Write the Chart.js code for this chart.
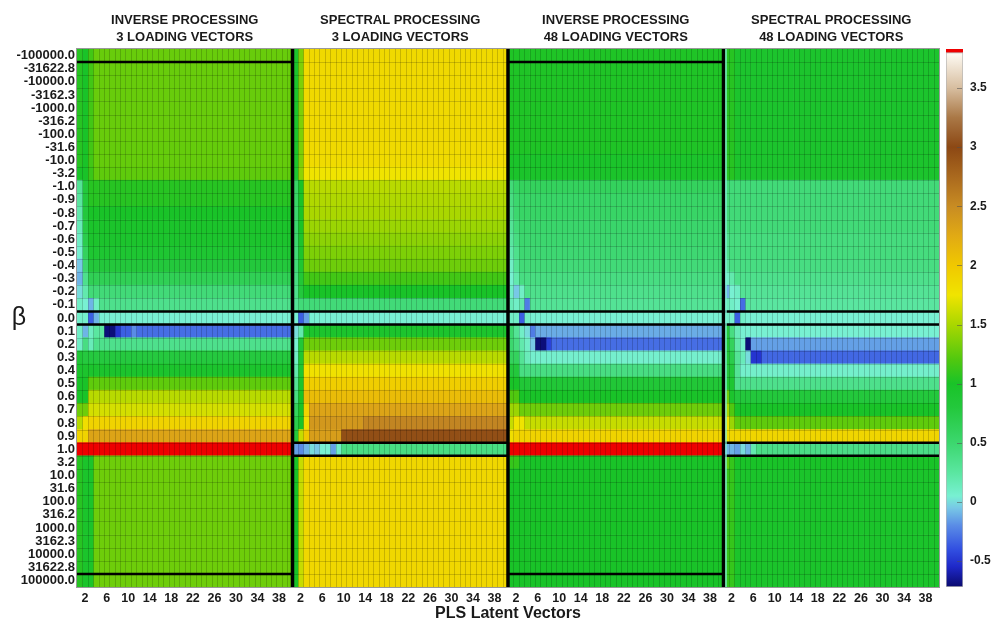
<!DOCTYPE html>
<html>
<head>
<meta charset="utf-8">
<script src="https://cdn.jsdelivr.net/npm/chart.js@4.4.0/dist/chart.umd.min.js"></script>
<style>
  html, body { margin: 0; padding: 0; background: #fff; overflow: hidden; }
  #wrap { position: relative; width: 991px; height: 623px; overflow: hidden; }
  #heat { position: absolute; left: 0; top: 0; }
  #bar { position: absolute; left: 946px; top: 0; }
</style>
</head>
<body>
<div id="wrap">
  <canvas id="heat" width="945" height="623"></canvas>
  <canvas id="bar" width="60" height="623"></canvas>
</div>
<script>
// rows (top to bottom) and columns
const betaLabels = ['-100000.0','-31622.8','-10000.0','-3162.3','-1000.0','-316.2','-100.0','-31.6','-10.0','-3.2',
  '-1.0','-0.9','-0.8','-0.7','-0.6','-0.5','-0.4','-0.3','-0.2','-0.1','0.0',
  '0.1','0.2','0.3','0.4','0.5','0.6','0.7','0.8','0.9','1.0',
  '3.2','10.0','31.6','100.0','316.2','1000.0','3162.3','10000.0','31622.8','100000.0'];
const nLatent = 40;
const xTickLabels = [2, 6, 10, 14, 18, 22, 26, 30, 34, 38];
const panelTitles = [
  ['INVERSE PROCESSING', '3 LOADING VECTORS'],
  ['SPECTRAL PROCESSING', '3 LOADING VECTORS'],
  ['INVERSE PROCESSING', '48 LOADING VECTORS'],
  ['SPECTRAL PROCESSING', '48 LOADING VECTORS']
];
const cbTicks = [-0.5, 0, 0.5, 1, 1.5, 2, 2.5, 3, 3.5];
const cbMin = -0.72, cbTop = 3.8, cbMax = 3.83;

// each row = runs of [value, how many latent vectors]; null = off scale (red)
const inverse3 = [
  [[1.05,1],[1.0,1],[1.15,1],[1.28,37]],
  [[1.05,1],[1.0,1],[1.15,1],[1.28,37]],
  [[1.05,1],[1.0,1],[1.15,1],[1.28,37]],
  [[1.05,1],[1.0,1],[1.15,1],[1.28,37]],
  [[1.05,1],[1.0,1],[1.15,1],[1.28,37]],
  [[1.05,1],[1.0,1],[1.15,1],[1.28,37]],
  [[1.05,1],[1.0,1],[1.15,1],[1.28,37]],
  [[1.05,1],[1.0,1],[1.15,1],[1.27,37]],
  [[1.05,1],[1.0,1],[1.15,1],[1.27,37]],
  [[1.0,2],[1.12,1],[1.25,37]],
  [[0.3,1],[0.8,1],[1.05,38]],
  [[0.25,1],[0.8,1],[1.05,38]],
  [[0.2,1],[0.8,1],[1.0,38]],
  [[0.15,1],[0.75,1],[0.97,38]],
  [[0.1,1],[0.7,1],[0.95,38]],
  [[0.05,1],[0.6,1],[0.9,38]],
  [[-0.05,1],[0.5,1],[0.8,38]],
  [[-0.1,1],[0.35,1],[0.65,38]],
  [[0.0,1],[0.2,1],[0.45,38]],
  [[0.1,1],[0.05,1],[-0.1,1],[0.1,1],[0.35,36]],
  [[0.08,2],[-0.35,1],[-0.1,1],[0.05,36]],
  [[0.1,1],[-0.1,1],[0.12,1],[0.25,2],[-0.7,2],[-0.5,1],[-0.35,2],[-0.2,1],[-0.3,29]],
  [[0.1,1],[0.4,1],[0.15,1],[0.35,37]],
  [[0.85,1],[0.78,39]],
  [[0.95,40]],
  [[1.0,2],[1.25,38]],
  [[1.0,2],[1.55,38]],
  [[1.3,2],[1.65,38]],
  [[1.55,1],[1.8,1],[1.9,38]],
  [[1.9,2],[2.3,38]],
  [[null,40]],
  [[1.05,1],[0.97,2],[1.3,37]],
  [[1.05,1],[0.97,2],[1.3,37]],
  [[1.05,1],[0.97,2],[1.3,37]],
  [[1.05,1],[0.97,2],[1.3,37]],
  [[1.05,1],[0.97,2],[1.3,37]],
  [[1.05,1],[0.97,2],[1.3,37]],
  [[1.05,1],[0.97,2],[1.3,37]],
  [[1.05,1],[0.97,2],[1.3,37]],
  [[1.05,1],[0.97,2],[1.3,37]],
  [[1.05,1],[0.97,2],[1.3,37]]
];

const spectral3 = [
  [[0.95,1],[1.35,1],[1.85,38]],
  [[0.95,1],[1.35,1],[1.85,38]],
  [[0.95,1],[1.35,1],[1.85,38]],
  [[0.95,1],[1.35,1],[1.85,38]],
  [[0.95,1],[1.35,1],[1.85,38]],
  [[0.95,1],[1.35,1],[1.85,38]],
  [[0.95,1],[1.35,1],[1.85,38]],
  [[0.95,1],[1.35,1],[1.84,38]],
  [[0.95,1],[1.35,1],[1.83,38]],
  [[0.9,1],[1.4,1],[1.75,38]],
  [[0.55,1],[1.0,1],[1.55,38]],
  [[0.55,1],[1.0,1],[1.52,38]],
  [[0.5,1],[1.0,1],[1.5,38]],
  [[0.5,1],[1.0,1],[1.45,38]],
  [[0.5,1],[0.95,1],[1.4,38]],
  [[0.45,1],[0.95,1],[1.35,38]],
  [[0.45,1],[0.9,1],[1.3,38]],
  [[0.4,1],[0.85,1],[1.15,38]],
  [[0.35,1],[0.8,1],[1.0,38]],
  [[0.3,1],[0.45,39]],
  [[0.05,1],[-0.35,1],[-0.15,1],[0.05,37]],
  [[0.0,1],[0.2,1],[0.95,38]],
  [[0.05,1],[0.85,1],[1.3,38]],
  [[0.1,1],[0.9,1],[1.55,38]],
  [[0.2,1],[0.9,1],[1.78,38]],
  [[0.3,1],[0.95,1],[1.95,38]],
  [[0.4,1],[1.0,1],[2.1,38]],
  [[0.6,1],[1.0,1],[1.9,1],[2.3,37]],
  [[0.7,1],[1.0,1],[1.8,1],[2.4,10],[2.55,27]],
  [[0.8,1],[1.6,1],[2.0,1],[2.35,6],[2.95,31]],
  [[-0.15,1],[-0.2,1],[-0.1,1],[0.0,1],[-0.05,1],[0.05,2],[-0.15,1],[0.1,1],[0.4,31]],
  [[1.0,1],[1.6,1],[1.87,38]],
  [[1.0,1],[1.6,1],[1.87,38]],
  [[1.0,1],[1.6,1],[1.87,38]],
  [[1.0,1],[1.6,1],[1.87,38]],
  [[1.0,1],[1.6,1],[1.87,38]],
  [[1.0,1],[1.6,1],[1.87,38]],
  [[1.0,1],[1.6,1],[1.87,38]],
  [[1.0,1],[1.6,1],[1.87,38]],
  [[1.0,1],[1.6,1],[1.87,38]],
  [[1.0,1],[1.6,1],[1.87,38]]
];

const inverse48 = [
  [[1.02,40]],
  [[1.02,40]],
  [[1.02,40]],
  [[1.02,40]],
  [[1.02,40]],
  [[1.02,40]],
  [[1.02,40]],
  [[1.02,40]],
  [[0.97,40]],
  [[0.97,40]],
  [[0.45,1],[0.55,1],[0.6,38]],
  [[0.4,1],[0.5,1],[0.55,38]],
  [[0.35,1],[0.5,1],[0.55,38]],
  [[0.3,1],[0.45,1],[0.52,38]],
  [[0.25,1],[0.4,1],[0.5,38]],
  [[0.2,1],[0.35,1],[0.48,38]],
  [[0.1,1],[0.3,1],[0.45,38]],
  [[0.05,1],[0.2,1],[0.4,38]],
  [[0.1,1],[-0.05,1],[0.1,1],[0.35,37]],
  [[0.15,1],[0.1,1],[0.2,1],[-0.25,1],[0.3,36]],
  [[0.1,2],[-0.35,1],[0.1,1],[0.05,36]],
  [[0.5,1],[0.3,1],[0.1,1],[0.0,1],[-0.25,1],[-0.12,35]],
  [[0.5,1],[0.4,1],[0.2,1],[0.1,1],[-0.05,1],[-0.7,2],[-0.45,1],[-0.3,32]],
  [[0.6,2],[0.3,1],[0.15,1],[0.07,36]],
  [[0.8,2],[0.4,38]],
  [[1.0,2],[0.85,38]],
  [[1.2,2],[1.0,38]],
  [[1.45,2],[1.3,38]],
  [[1.6,1],[1.75,2],[1.6,37]],
  [[1.8,1],[1.9,39]],
  [[null,40]],
  [[1.1,2],[1.0,38]],
  [[1.0,40]],
  [[1.0,40]],
  [[1.0,40]],
  [[1.0,40]],
  [[1.0,40]],
  [[1.0,40]],
  [[1.0,40]],
  [[1.0,40]],
  [[1.0,40]]
];

const spectral48 = [
  [[1.05,2],[0.95,38]],
  [[1.05,2],[0.95,38]],
  [[1.05,2],[0.95,38]],
  [[1.05,2],[0.95,38]],
  [[1.05,2],[0.95,38]],
  [[1.05,2],[0.95,38]],
  [[1.05,2],[0.95,38]],
  [[1.05,2],[0.95,38]],
  [[1.05,2],[0.95,38]],
  [[1.05,2],[0.95,38]],
  [[0.45,40]],
  [[0.45,40]],
  [[0.45,40]],
  [[0.45,40]],
  [[0.35,1],[0.42,39]],
  [[0.35,1],[0.42,39]],
  [[0.25,1],[0.4,39]],
  [[0.1,1],[0.2,1],[0.35,38]],
  [[-0.1,1],[0.05,1],[0.1,1],[0.3,37]],
  [[0.15,1],[0.1,1],[0.05,1],[-0.3,1],[0.25,36]],
  [[0.1,1],[0.05,1],[-0.35,1],[0.1,1],[0.05,36]],
  [[0.8,1],[0.4,1],[0.15,1],[0.05,37]],
  [[0.9,1],[0.6,1],[0.2,1],[0.05,1],[-0.7,1],[-0.15,35]],
  [[0.85,1],[0.7,1],[0.3,1],[0.15,1],[0.0,1],[-0.5,2],[-0.32,33]],
  [[0.8,2],[0.3,1],[0.08,37]],
  [[0.9,2],[0.35,38]],
  [[1.3,1],[0.95,1],[0.8,38]],
  [[1.5,1],[1.2,1],[1.0,38]],
  [[1.75,1],[1.45,1],[1.25,38]],
  [[1.8,1],[1.88,39]],
  [[-0.1,2],[-0.15,1],[0.0,1],[-0.1,1],[0.2,1],[0.38,34]],
  [[1.25,1],[1.1,1],[1.0,38]],
  [[1.1,2],[0.97,38]],
  [[1.1,2],[0.97,38]],
  [[1.1,2],[0.97,38]],
  [[1.1,2],[0.97,38]],
  [[1.1,2],[0.97,38]],
  [[1.1,2],[0.97,38]],
  [[1.1,2],[0.97,38]],
  [[1.1,2],[0.97,38]],
  [[1.1,2],[0.97,38]]
];

const panels = [inverse3, spectral3, inverse48, spectral48];

// colour scale of the bar on the right
const cmap = [
  [-0.72, [10, 10, 110]],
  [-0.55, [30, 40, 200]],
  [-0.4, [50, 80, 225]],
  [-0.2, [90, 140, 230]],
  [-0.05, [120, 200, 230]],
  [0.05, [120, 240, 210]],
  [0.25, [90, 230, 160]],
  [0.5, [60, 215, 110]],
  [0.8, [35, 200, 60]],
  [1.0, [25, 195, 40]],
  [1.2, [80, 200, 15]],
  [1.5, [170, 215, 0]],
  [1.75, [240, 228, 0]],
  [2.0, [240, 200, 0]],
  [2.25, [225, 170, 20]],
  [2.5, [200, 140, 35]],
  [2.75, [170, 105, 30]],
  [3.0, [140, 72, 20]],
  [3.25, [170, 120, 70]],
  [3.5, [215, 190, 160]],
  [3.8, [255, 252, 245]]
];
const offScale = 'rgb(238,0,0)';

function colorFor(v) {
  if (v === null || v > cbTop) return offScale;
  if (v <= cmap[0][0]) return 'rgb(' + cmap[0][1].join(',') + ')';
  for (let i = 1; i < cmap.length; i++) {
    if (v <= cmap[i][0]) {
      const [v0, c0] = cmap[i - 1], [v1, c1] = cmap[i];
      const t = (v - v0) / (v1 - v0);
      const c = c0.map((a, k) => Math.round(a + (c1[k] - a) * t));
      return 'rgb(' + c.join(',') + ')';
    }
  }
  return 'rgb(' + cmap[cmap.length - 1][1].join(',') + ')';
}

function expandRow(runs) {
  const out = [];
  runs.forEach(([v, n]) => { for (let i = 0; i < n; i++) out.push(v); });
  return out;
}

// one dataset per latent-vector column, stacked left to right
const datasets = [];
panels.forEach((panel, p) => {
  const rows = panel.map(expandRow);
  for (let c = 0; c < nLatent; c++) {
    datasets.push({
      data: betaLabels.map(() => 1),
      backgroundColor: rows.map(r => colorFor(r[c])),
      borderWidth: 0,
      barPercentage: 1,
      categoryPercentage: 1,
      stack: 'cells'
    });
  }
});

const FONT = "'Liberation Sans', Arial, sans-serif";

const framePlugin = {
  id: 'frames',
  afterDatasetsDraw(chart) {
    const { ctx, chartArea: a, scales: { x } } = chart;
    const rowH = a.height / betaLabels.length;
    const rowY = k => a.top + k * rowH;
    const px = c => x.getPixelForValue(c);
    ctx.save();
    // faint cell grid
    ctx.strokeStyle = 'rgba(0,0,0,0.17)';
    ctx.lineWidth = 1;
    ctx.beginPath();
    for (let c = 1; c < nLatent * 4; c++) {
      const xx = Math.round(px(c)) + 0.5;
      ctx.moveTo(xx, a.top); ctx.lineTo(xx, a.bottom);
    }
    for (let k = 1; k < betaLabels.length; k++) {
      const yy = Math.round(rowY(k)) + 0.5;
      ctx.moveTo(a.left, yy); ctx.lineTo(a.right, yy);
    }
    ctx.stroke();
    // plot border
    ctx.strokeStyle = '#999';
    ctx.strokeRect(a.left - 0.5, a.top - 0.5, a.width + 1, a.height + 1);
    // black boxes
    ctx.strokeStyle = '#000';
    const hline = (p, k) => {
      ctx.beginPath();
      ctx.moveTo(px(p * nLatent), rowY(k));
      ctx.lineTo(px((p + 1) * nLatent), rowY(k));
      ctx.stroke();
    };
    ctx.lineWidth = 2.5;
    [0, 2].forEach(p => { hline(p, 1); hline(p, 40); });
    [0, 1, 2, 3].forEach(p => { hline(p, 20); hline(p, 21); });
    [1, 3].forEach(p => { hline(p, 30); hline(p, 31); });
    ctx.lineWidth = 3.5;
    [1, 2, 3].forEach(p => {
      ctx.beginPath();
      ctx.moveTo(px(p * nLatent), a.top);
      ctx.lineTo(px(p * nLatent), a.bottom);
      ctx.stroke();
    });
    ctx.strokeStyle = 'rgba(130,240,215,0.9)';
    ctx.lineWidth = 1.5;
    ctx.beginPath();
    ctx.moveTo(px(3 * nLatent) + 2.5, a.top);
    ctx.lineTo(px(3 * nLatent) + 2.5, a.bottom);
    ctx.stroke();
    // panel titles
    ctx.fillStyle = '#1a1a1a';
    ctx.font = 'bold 13px ' + FONT;
    ctx.textAlign = 'center';
    ctx.textBaseline = 'middle';
    panelTitles.forEach((t, p) => {
      const cx = (px(p * nLatent) + px((p + 1) * nLatent)) / 2;
      ctx.fillText(t[0], cx, 20);
      ctx.fillText(t[1], cx, 37);
    });
    // beta
    ctx.font = '25px ' + FONT;
    ctx.fillText('β', 19, 318);
    ctx.restore();
  }
};

new Chart(document.getElementById('heat'), {
  type: 'bar',
  data: { labels: betaLabels, datasets: datasets },
  options: {
    indexAxis: 'y',
    responsive: false,
    animation: false,
    events: [],
    layout: { padding: { top: 49, left: 0, right: 6, bottom: 0 } },
    plugins: { legend: { display: false }, tooltip: { enabled: false } },
    scales: {
      x: {
        type: 'linear', min: 0, max: nLatent * 4, stacked: true,
        grid: { display: false, drawTicks: false },
        border: { display: false },
        afterBuildTicks(axis) {
          const t = [];
          for (let p = 0; p < 4; p++) xTickLabels.forEach(n => t.push({ value: p * nLatent + n - 0.5 }));
          axis.ticks = t;
        },
        afterFit(scale) { scale.height = 36; },
        ticks: {
          autoSkip: false, maxRotation: 0, padding: 4, color: '#1a1a1a',
          font: { family: FONT, size: 12.5, weight: 'bold' },
          callback: v => xTickLabels[Math.round(((v + 0.5) % nLatent - 2) / 4)]
        },
        title: {
          display: true, text: 'PLS Latent Vectors', color: '#1a1a1a',
          font: { family: FONT, size: 16, weight: 'bold' },
          padding: { top: 0, bottom: 0 }
        }
      },
      y: {
        stacked: true,
        grid: { display: false, drawTicks: false },
        border: { display: false },
        afterFit(scale) { scale.width = 77; },
        ticks: {
          autoSkip: false, padding: 2, color: '#1a1a1a',
          font: { family: FONT, size: 13, weight: 'bold' }
        }
      }
    }
  },
  plugins: [framePlugin]
});

// colour bar
function cbGradient(context) {
  const chart = context.chart;
  if (!chart.chartArea) return null;
  const y = chart.scales.y;
  const g = chart.ctx.createLinearGradient(0, y.getPixelForValue(cbMin), 0, y.getPixelForValue(cbTop));
  cmap.forEach(([v, c]) => g.addColorStop((v - cbMin) / (cbTop - cbMin), 'rgb(' + c.join(',') + ')'));
  return g;
}

const cbTickMarks = {
  id: 'cbTickMarks',
  afterDatasetsDraw(chart) {
    const { ctx, chartArea: a, scales: { y } } = chart;
    ctx.save();
    ctx.strokeStyle = 'rgba(80,80,80,0.55)';
    ctx.lineWidth = 1;
    cbTicks.forEach(v => {
      const yy = Math.round(y.getPixelForValue(v)) + 0.5;
      ctx.beginPath();
      ctx.moveTo(a.right - 6, yy); ctx.lineTo(a.right - 1, yy);
      ctx.stroke();
    });
    ctx.restore();
  }
};

new Chart(document.getElementById('bar'), {
  type: 'bar',
  data: {
    labels: ['scale'],
    datasets: [
      { data: [[cbMin, cbTop]], backgroundColor: cbGradient, borderColor: '#b5b5b5', borderWidth: 1,
        borderSkipped: false, barPercentage: 1, categoryPercentage: 1, grouped: false },
      { data: [[cbTop, cbMax]], backgroundColor: offScale, borderWidth: 0,
        barPercentage: 1, categoryPercentage: 1, grouped: false }
    ]
  },
  options: {
    responsive: false,
    animation: false,
    events: [],
    layout: { padding: { top: 49, left: 0, right: 0, bottom: 36 } },
    plugins: { legend: { display: false }, tooltip: { enabled: false } },
    scales: {
      x: { display: false },
      y: {
        position: 'right', min: cbMin, max: cbMax,
        grid: { display: false, drawTicks: false },
        border: { display: false },
        afterBuildTicks(axis) { axis.ticks = cbTicks.map(v => ({ value: v })); },
        afterFit(scale) { scale.width = 43; },
        ticks: {
          padding: 7, color: '#1a1a1a',
          font: { family: FONT, size: 12, weight: 'bold' },
          callback: v => String(v)
        }
      }
    }
  },
  plugins: [cbTickMarks]
});
</script>
</body>
</html>
